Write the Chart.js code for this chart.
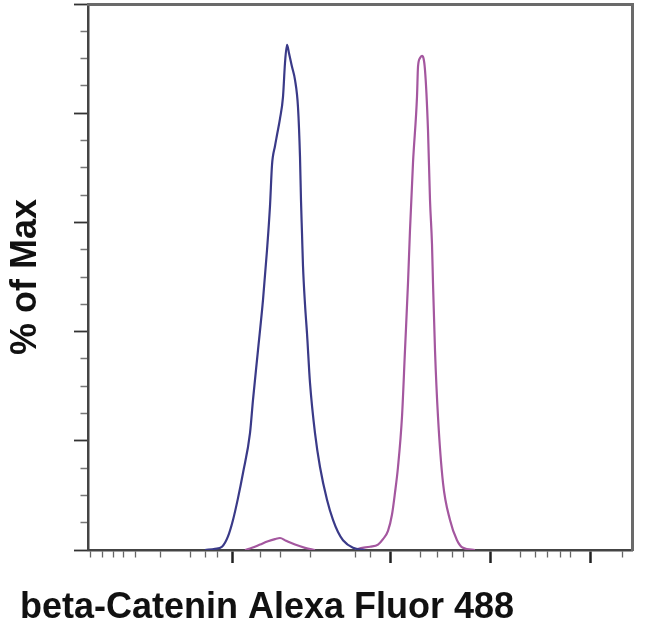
<!DOCTYPE html>
<html><head><meta charset="utf-8">
<script src="https://cdn.jsdelivr.net/npm/chart.js@4"></script>
<style>html,body{margin:0;padding:0;background:#fff}#wrap{width:650px;height:630px}</style>
</head><body><div id="wrap"><canvas id="c" width="650" height="630"></canvas></div>
<script>
const xTitle = 'beta-Catenin Alexa Fluor 488';
const yTitle = '% of Max';

const blueX = [1.15,1.25,1.32,1.38,1.43,1.48,1.53,1.60,1.63,1.68,1.73,1.77,1.80,1.82,1.85,1.87,1.90,1.93,1.95,1.97,1.99,2.02,2.05,2.08,2.10,2.11,2.12,2.13,2.15,2.17,2.20,2.25,2.30,2.37,2.43,2.48,2.53,2.63,2.75];
const blueY = [0,0.2,0.6,2.5,5.5,9.5,14.1,21.4,27.5,36.6,45.8,54.9,63,70.5,74,76,79,83.0,89.2,92.5,91,88.5,86.1,81.1,72,64,58,52,45,39.7,30.6,21.4,15.2,9.2,5.5,3.3,1.8,0.4,0];

const pinkX = [1.55,1.62,1.70,1.78,1.85,1.90,1.96,2.05,2.15,2.25,2.45,2.65,2.70,2.80,2.88,2.93,2.98,3.02,3.05,3.08,3.12,3.15,3.18,3.20,3.23,3.27,3.28,3.30,3.32,3.35,3.38,3.40,3.42,3.43,3.45,3.48,3.53,3.60,3.67,3.73,3.85];
const pinkY = [0,0.4,1.0,1.6,2.0,2.2,1.7,1.0,0.4,0,null,0,0.3,0.6,1.0,2.0,3.5,6.5,10.5,15.2,24.4,36.6,48.9,58.6,70.9,83.0,88.5,90.1,90.5,87.9,76.9,64.1,56,48.9,36.6,24.4,12.3,5.5,1.8,0.4,0];

const xTickValues = [0.00,0.12,0.23,0.33,0.45,0.70,1.00,1.15,1.27,1.42,1.70,1.90,2.20,2.65,2.80,3.00,3.30,3.47,3.62,3.73,4.00,4.30,4.45,4.57,4.70,4.80,5.00,5.32];
const xMajorTicks = [1.42,3.00,4.00,5.00];
const yTickStep = 5;
const yMajorEvery = 20;

const BLUE = '#3a3a88';
const PINK = '#a4579f';
const AXIS = '#444';
const FONT = "'Liberation Sans', Arial, sans-serif";

const isXMajor = v => xMajorTicks.some(m => Math.abs(m - v) < 1e-6);
const isYMajor = v => Math.abs(v % yMajorEvery) < 1e-6;

new Chart(document.getElementById('c'), {
  type: 'line',
  data: {
    datasets: [
      {data: blueX.map((x, i) => ({x, y: blueY[i]})), borderColor: BLUE, borderWidth: 2.2, pointRadius: 0, cubicInterpolationMode: 'monotone', fill: false},
      {data: pinkX.map((x, i) => ({x, y: pinkY[i]})), borderColor: PINK, borderWidth: 2.2, pointRadius: 0, cubicInterpolationMode: 'monotone', fill: false, spanGaps: false}
    ]
  },
  options: {
    responsive: false, animation: false, devicePixelRatio: 1,
    layout: {padding: {left: 20, right: 18, top: 4, bottom: 0}},
    plugins: {
      legend: {display: false}, tooltip: {enabled: false},
      title: {display: true, text: xTitle, position: 'bottom', align: 'start', fullSize: true, color: '#111',
        font: {family: FONT, size: 36, weight: 'bold', lineHeight: 1.2}, padding: {top: 23.8, bottom: 0}}
    },
    scales: {
      x: {
        type: 'linear', position: 'bottom', min: -0.02, max: 5.42,
        afterBuildTicks: s => { s.ticks = xTickValues.map(v => ({value: v})); },
        ticks: {display: false},
        grid: {
          drawOnChartArea: false, drawTicks: true, tickLength: 13,
          tickColor: c => (c.tick && isXMajor(c.tick.value)) ? '#222' : '#666',
          tickWidth: c => (c.tick && isXMajor(c.tick.value)) ? 2.5 : 1.3,
          tickBorderDash: c => (c.tick && isXMajor(c.tick.value)) ? [] : [6, 60]
        },
        border: {display: true, color: AXIS, width: 2.5}
      },
      y: {
        type: 'linear', position: 'left', min: 0, max: 100,
        ticks: {display: false, stepSize: yTickStep},
        grid: {
          drawOnChartArea: false, drawTicks: true, tickLength: 14,
          tickColor: c => (c.tick && isYMajor(c.tick.value)) ? '#333' : '#777',
          tickWidth: c => (c.tick && isYMajor(c.tick.value)) ? 1.8 : 1.3,
          tickBorderDash: c => (c.tick && isYMajor(c.tick.value)) ? [] : [0, 6.5, 7, 100]
        },
        border: {display: true, color: AXIS, width: 2.5},
        title: {display: true, text: yTitle, color: '#111', font: {family: FONT, size: 36, weight: 'bold', lineHeight: 1.2}, padding: {top: -15.6, bottom: 26.4}}
      },
      x2: {
        type: 'linear', position: 'top', min: 0, max: 1,
        ticks: {display: false}, grid: {display: false, drawTicks: false},
        border: {display: true, color: '#6a6a6a', width: 3}
      },
      y2: {
        type: 'linear', position: 'right', min: 0, max: 1,
        ticks: {display: false}, grid: {display: false, drawTicks: false},
        border: {display: true, color: '#6a6a6a', width: 3}
      }
    }
  }
});
</script>
</body></html>
